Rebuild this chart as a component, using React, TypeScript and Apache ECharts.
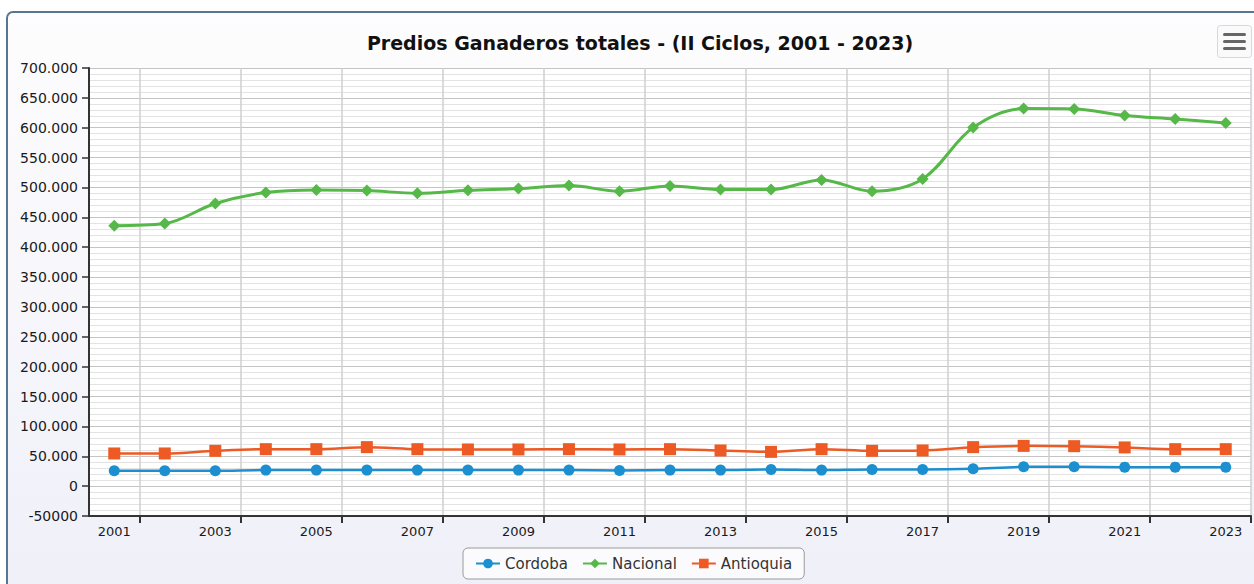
import React, { useEffect, useRef } from "react";
import * as echarts from "echarts";

const years = ["2001","2002","2003","2004","2005","2006","2007","2008","2009","2010","2011","2012","2013","2014","2015","2016","2017","2018","2019","2020","2021","2022","2023"];
const cordoba = [25600,25600,25600,26800,26800,26800,26800,26800,26800,26800,26300,26800,26800,27900,26800,27900,27900,29000,32300,32300,31800,31800,31800];
const nacional = [436000,439600,473100,491500,495800,494800,490300,495300,498200,503200,493700,502500,496500,496500,512600,493700,514200,600300,632000,631400,620300,614600,608000];
const antioquia = [54700,54700,59100,61900,61900,65300,61900,61400,61400,61900,61400,61900,59700,57400,61900,59100,59700,65300,67400,66900,64800,61900,61900];

const titleText = "Predios Ganaderos totales - (II Ciclos, 2001 - 2023)";
const font = "DejaVu Sans, Verdana, sans-serif";

function fmt(v: number): string {
  if (v < 0) return String(v);
  return Math.round(v).toString().replace(/\B(?=(\d{3})+(?!\d))/g, ".");
}

export default function App() {
  const ref = useRef<HTMLDivElement>(null);
  useEffect(() => {
    if (!ref.current) return;
    const chart = echarts.init(ref.current, undefined, { renderer: "svg" });
    chart.setOption({
      animation: false,
      backgroundColor: "#ffffff",
      textStyle: { fontFamily: font },
      title: {
        text: titleText,
        left: 635,
        top: 28,
        textAlign: "center",
        textStyle: { fontFamily: font, fontSize: 19, fontWeight: "bold", color: "#111" },
      },
      graphic: [
        {
          type: "rect",
          z: -10,
          silent: true,
          shape: { x: 7, y: 12, width: 1270, height: 600, r: 6 },
          style: {
            fill: new echarts.graphic.LinearGradient(0, 0, 0, 1, [
              { offset: 0, color: "#fdfdfe" },
              { offset: 1, color: "#efeff9" },
            ]),
            stroke: "#5a7591",
            lineWidth: 2,
          },
        },
        {
          type: "group",
          left: 1217,
          top: 25,
          children: [
            { type: "rect", shape: { x: 0, y: 0, width: 34, height: 32, r: 3 }, style: { fill: "#fafafa", stroke: "#d8d8d8", lineWidth: 1 } },
            { type: "line", shape: { x1: 7, y1: 9, x2: 27, y2: 9 }, style: { stroke: "#666", lineWidth: 3, lineCap: "round" } },
            { type: "line", shape: { x1: 7, y1: 16, x2: 27, y2: 16 }, style: { stroke: "#666", lineWidth: 3, lineCap: "round" } },
            { type: "line", shape: { x1: 7, y1: 23, x2: 27, y2: 23 }, style: { stroke: "#666", lineWidth: 3, lineCap: "round" } },
          ],
        },
      ],
      legend: {
        left: 463,
        top: 548,
        height: 34,
        padding: [8, 12, 8, 12],
        itemGap: 14,
        itemWidth: 24,
        itemHeight: 12,
        borderColor: "#9a9a9a",
        borderWidth: 1,
        borderRadius: 5,
        backgroundColor: "#fbfbfd",
        textStyle: { fontFamily: font, fontSize: 15, color: "#333" },
        data: ["Cordoba", "Nacional", "Antioquia"],
      },
      grid: {
        left: 89,
        right: 3,
        top: 68,
        bottom: 68,
        show: true,
        backgroundColor: "#ffffff",
        borderWidth: 0,
      },
      xAxis: {
        type: "category",
        data: years,
        boundaryGap: true,
        axisLine: { show: true, onZero: false, lineStyle: { color: "#333", width: 2 } },
        axisTick: { show: true, length: 7, interval: (i: number) => i % 2 === 1, lineStyle: { color: "#333", width: 2 } },
        axisLabel: { interval: (i: number) => i % 2 === 0, margin: 9, fontSize: 13, color: "#1a1a1a", fontFamily: font },
        splitLine: { show: true, interval: (i: number) => i % 2 === 1, lineStyle: { color: "#cfcfcf", width: 1.5 } },
      },
      yAxis: {
        type: "value",
        min: -50000,
        max: 700000,
        interval: 50000,
        axisLine: { show: true, lineStyle: { color: "#333", width: 2 } },
        axisTick: { show: true, length: 7, lineStyle: { color: "#333", width: 1.5 } },
        axisLabel: { formatter: fmt, margin: 11, fontSize: 14, color: "#1a1a1a", fontFamily: font },
        splitLine: { show: true, lineStyle: { color: "#c4c4c4", width: 1 } },
        minorTick: { show: false, splitNumber: 5 },
        minorSplitLine: { show: true, lineStyle: { color: "#e3e3e3", width: 1 } },
      },
      series: [
        {
          name: "Cordoba",
          type: "line",
          data: cordoba,
          color: "#1b8fcf",
          symbol: "circle",
          symbolSize: 11,
          lineStyle: { width: 2.5 },
          smooth: 0.3,
        },
        {
          name: "Nacional",
          type: "line",
          data: nacional,
          color: "#56b848",
          symbol: "diamond",
          symbolSize: 12,
          lineStyle: { width: 3 },
          smooth: 0.35,
        },
        {
          name: "Antioquia",
          type: "line",
          data: antioquia,
          color: "#ee5a24",
          symbol: "rect",
          symbolSize: 12,
          lineStyle: { width: 2.5 },
          smooth: 0.3,
        },
      ],
    });
    return () => chart.dispose();
  }, []);
  return <div ref={ref} style={{ position: "absolute", left: 0, top: 0, width: 1254, height: 584 }} />;
}
